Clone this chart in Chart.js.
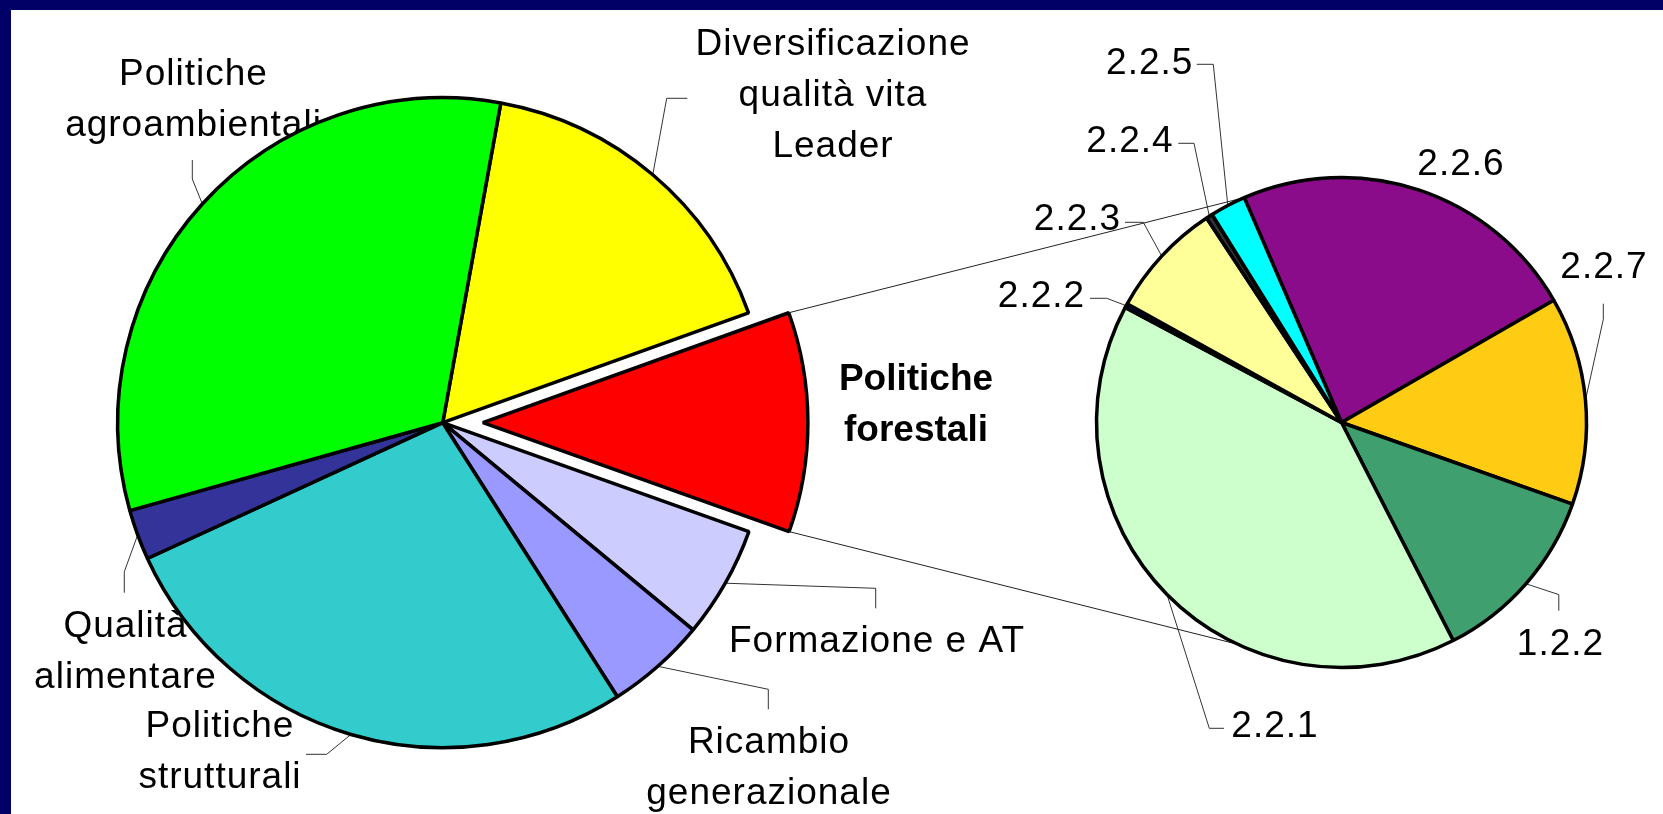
<!DOCTYPE html>
<html><head><meta charset="utf-8">
<script src="https://cdn.jsdelivr.net/npm/chart.js@4.4.0/dist/chart.umd.min.js"></script>
<style>
html,body{margin:0;padding:0;background:#fff;width:1663px;height:814px;overflow:hidden;}
#wrap{position:relative;width:1663px;height:814px;background:#fff;}
canvas{position:absolute;left:0;top:0;}
.bt{position:absolute;left:0;top:0;width:1663px;height:10px;background:#000066;}
.bl{position:absolute;left:0;top:0;width:11px;height:814px;background:#000066;}
</style></head><body>
<div id="wrap">
<canvas id="c1" width="1663" height="814"></canvas>
<canvas id="c2" width="1663" height="814"></canvas>
<div class="bt"></div><div class="bl"></div>
</div>
<script>
// ---------- DATA ----------
const mainCategories = ['Diversificazione qualità vita Leader', 'Politiche forestali', 'Formazione e AT',
  'Ricambio generazionale', 'Politiche strutturali', 'Qualità alimentare', 'Politiche agroambientali'];
const mainValues = [16.65, 10.93, 5.56, 4.97, 27.17, 2.50, 32.22];
const subCategories = ['2.2.6', '2.2.7', '1.2.2', '2.2.1', '2.2.2', '2.2.3', '2.2.4', '2.2.5'];
const subValues = [23.19, 13.72, 12.06, 40.31, 0.28, 7.67, 0.42, 2.36];

// ---------- STYLE / LAYOUT ----------
const W = 1663, H = 814;
const mainColors = ['#FFFF00', '#FF0000', '#CCCCFF', '#9999FF', '#33CCCC', '#333399', '#00FF00'];
const subColors = ['#8A0C8A', '#FFCC14', '#3F9F6F', '#CCFFCC', '#000080', '#FFFF99', '#333333', '#00FFFF'];
const mainPie = { cx: 442.7, cy: 422.7, r: 325, rotation: 10.3, explodeIndex: 1, explode: 40.2, half: 380 };
const subPie = { cx: 1341.5, cy: 422.5, r: 245, rotation: -23.4, half: 300, bottomConnectClock: 205.2 };
const FONT = '"Liberation Sans", Arial, sans-serif';
const LINE_H = 51;
const BORDER_W = 3.5;

// label layout: slice index, text lines, anchor (center x, first baseline y), leader polyline after the slice edge point
const mainLabels = [
  { i: 0, lines: ['Diversificazione', 'qualità vita', 'Leader'], x: 833, y: 55, leader: [[666.7, 98.3], [687.3, 98.3]] },
  { i: 1, lines: ['Politiche', 'forestali'], x: 916, y: 390, bold: true },
  { i: 2, lines: ['Formazione e AT'], x: 877, y: 651.7, leader: [[875.7, 588.3], [875.7, 608.3]] },
  { i: 3, lines: ['Ricambio', 'generazionale'], x: 769, y: 753.3, leader: [[768.3, 689.3], [768.3, 709.3]] },
  { i: 4, lines: ['Politiche', 'strutturali'], x: 220, y: 737.3, leader: [[326.7, 754.3], [306, 754.3]] },
  { i: 5, lines: ['Qualità', 'alimentare'], x: 125.5, y: 636.7, leader: [[124.3, 571.7], [124.3, 592.7]] },
  { i: 6, lines: ['Politiche', 'agroambientali'], x: 193.5, y: 85, leader: [[192.3, 179], [192.3, 160]] }
];
const subLabels = [
  { i: 0, lines: ['2.2.6'], x: 1461, y: 175 },
  { i: 1, lines: ['2.2.7'], x: 1604, y: 278.3, leader: [[1603.3, 319.3], [1603.3, 303.7]] },
  { i: 2, lines: ['1.2.2'], x: 1560.5, y: 655.4, leader: [[1558.8, 594.6], [1558.8, 610.7]] },
  { i: 3, lines: ['2.2.1'], x: 1275, y: 736.7, leader: [[1209.3, 728.3], [1224, 728.3]] },
  { i: 4, lines: ['2.2.2'], x: 1041.5, y: 306.7, leader: [[1106.7, 298.3], [1090, 298.3]] },
  { i: 5, lines: ['2.2.3'], x: 1077.5, y: 230, leader: [[1143.3, 222.3], [1125, 222.3]] },
  { i: 6, lines: ['2.2.4'], x: 1130, y: 151.7, leader: [[1194, 143.3], [1178.3, 143.3]] },
  { i: 7, lines: ['2.2.5'], x: 1149.7, y: 74.3, leader: [[1213.3, 64.3], [1196.7, 64.3]] }
];

function padFor(p) {
  return { left: p.cx - p.half, right: W - (p.cx + p.half), top: p.cy - p.half, bottom: H - (p.cy + p.half) };
}

function drawLabels(chart, labels) {
  const ctx = chart.ctx;
  const meta = chart.getDatasetMeta(0);
  ctx.save();
  labels.forEach(l => {
    const arc = meta.data[l.i];
    if (l.leader && arc) {
      const mid = (arc.startAngle + arc.endAngle) / 2;
      ctx.beginPath();
      ctx.moveTo(arc.x + Math.cos(mid) * arc.outerRadius, arc.y + Math.sin(mid) * arc.outerRadius);
      l.leader.forEach(p => ctx.lineTo(p[0], p[1]));
      ctx.strokeStyle = '#333';
      ctx.lineWidth = 1;
      ctx.stroke();
    }
    ctx.fillStyle = '#000';
    ctx.textAlign = 'center';
    ctx.textBaseline = 'alphabetic';
    ctx.font = (l.bold ? 'bold ' : '') + '37px ' + FONT;
    try { ctx.letterSpacing = l.bold ? '0px' : '1px'; } catch (e) {}
    l.lines.forEach((t, k) => ctx.fillText(t, l.x, l.y + k * LINE_H));
  });
  ctx.restore();
}

const leftChart = new Chart(document.getElementById('c1'), {
  type: 'pie',
  data: {
    labels: mainCategories,
    datasets: [{
      data: mainValues,
      backgroundColor: mainColors,
      borderColor: '#000',
      borderWidth: BORDER_W,
      hoverOffset: 0
    }]
  },
  options: {
    responsive: false,
    animation: false,
    events: [],
    devicePixelRatio: 1,
    rotation: mainPie.rotation,
    radius: mainPie.r,
    layout: { padding: padFor(mainPie) },
    plugins: { legend: { display: false }, tooltip: { enabled: false } }
  },
  plugins: [{
    id: 'mainLabels',
    beforeDatasetsDraw(chart) { drawLabels(chart, mainLabels); },
    // draw the library's arcs, pulling the "Politiche forestali" slice out along its mid-angle
    beforeDatasetDraw(chart, args) {
      const ctx = chart.ctx;
      args.meta.data.forEach((arc, i) => {
        ctx.save();
        if (i === mainPie.explodeIndex) {
          const mid = (arc.startAngle + arc.endAngle) / 2;
          ctx.translate(Math.cos(mid) * mainPie.explode, Math.sin(mid) * mainPie.explode);
        }
        arc.draw(ctx);
        ctx.restore();
      });
      return false;
    }
  }]
});

const rightChart = new Chart(document.getElementById('c2'), {
  type: 'pie',
  data: {
    labels: subCategories,
    datasets: [{
      data: subValues,
      backgroundColor: subColors,
      borderColor: '#000',
      borderWidth: BORDER_W,
      hoverOffset: 0
    }]
  },
  options: {
    responsive: false,
    animation: false,
    events: [],
    devicePixelRatio: 1,
    rotation: subPie.rotation,
    radius: subPie.r,
    layout: { padding: padFor(subPie) },
    plugins: { legend: { display: false }, tooltip: { enabled: false } }
  },
  plugins: [{
    id: 'subLabels',
    beforeDatasetsDraw(chart) {
      drawLabels(chart, subLabels);
      // series connector lines from the exploded slice of the main pie to the secondary pie
      const red = leftChart.getDatasetMeta(0).data[mainPie.explodeIndex];
      const sub = chart.getDatasetMeta(0).data;
      if (!red || !sub.length) return;
      const mid = (red.startAngle + red.endAngle) / 2;
      const ox = red.x + Math.cos(mid) * mainPie.explode;
      const oy = red.y + Math.sin(mid) * mainPie.explode;
      const R = red.outerRadius;
      const s0 = sub[0];
      const aTop = s0.startAngle;
      const aBot = (subPie.bottomConnectClock - 90) * Math.PI / 180;
      const ctx = chart.ctx;
      ctx.save();
      ctx.strokeStyle = '#222';
      ctx.lineWidth = 1;
      ctx.beginPath();
      ctx.moveTo(ox + Math.cos(red.startAngle) * R, oy + Math.sin(red.startAngle) * R);
      ctx.lineTo(s0.x + Math.cos(aTop) * s0.outerRadius, s0.y + Math.sin(aTop) * s0.outerRadius);
      ctx.moveTo(ox + Math.cos(red.endAngle) * R, oy + Math.sin(red.endAngle) * R);
      ctx.lineTo(s0.x + Math.cos(aBot) * s0.outerRadius, s0.y + Math.sin(aBot) * s0.outerRadius);
      ctx.stroke();
      ctx.restore();
    }
  }]
});
</script>
</body></html>
